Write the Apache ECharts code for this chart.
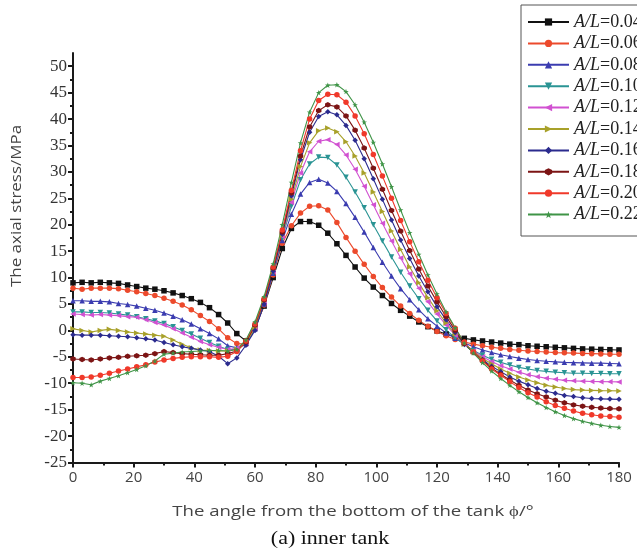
<!DOCTYPE html>
<html>
<head>
<meta charset="utf-8">
<script src="https://cdn.jsdelivr.net/npm/echarts@6/dist/echarts.min.js"></script>
<style>
  html, body { margin: 0; padding: 0; background: #fff; }
  #chart { width: 637px; height: 553px; }
</style>
</head>
<body>
<div id="chart"></div>
<script>
// Angle from the bottom of the tank (degrees), sampled every 3 degrees
const angles = [
  0, 3, 6, 9, 12, 15, 18, 21, 24, 27,
  30, 33, 36, 39, 42, 45, 48, 51, 54, 57,
  60, 63, 66, 69, 72, 75, 78, 81, 84, 87,
  90, 93, 96, 99, 102, 105, 108, 111, 114, 117,
  120, 123, 126, 129, 132, 135, 138, 141, 144, 147,
  150, 153, 156, 159, 162, 165, 168, 171, 174, 177, 180
];

// A/L ratios, one curve each
const ratios = ['0.04', '0.06', '0.08', '0.10', '0.12', '0.14', '0.16', '0.18', '0.20', '0.22'];

// Axial stress (MPa) for each ratio
const stress004 = [
  9.0, 9.1, 9.0, 9.1, 9.0, 8.9, 8.6, 8.3, 8.0, 7.8,
  7.5, 7.1, 6.6, 6.0, 5.3, 4.3, 3.0, 1.4, -0.6, -2.0,
  0.6, 4.6, 10.0, 15.5, 19.3, 20.6, 20.6, 19.9, 18.4, 16.4,
  14.2, 12.0, 9.9, 8.2, 6.6, 5.1, 3.8, 2.7, 1.6, 0.7,
  -0.1, -0.7, -1.2, -1.5, -1.8, -2.0, -2.2, -2.4, -2.6, -2.7,
  -2.9, -3.0, -3.1, -3.2, -3.3, -3.4, -3.5, -3.55, -3.6, -3.65, -3.7
];
const stress006 = [
  8.0, 7.8, 8.0, 8.0, 8.0, 7.9, 7.6, 7.3, 7.0, 6.6,
  6.1, 5.5, 4.8, 3.9, 2.8, 1.7, 0.3, -1.4, -2.5, -2.6,
  0.3, 4.8, 10.5, 16.5, 19.8, 22.2, 23.5, 23.6, 22.8, 20.4,
  17.6, 15.0, 12.5, 10.2, 8.1, 6.3, 4.6, 3.2, 1.9, 0.8,
  -0.2, -1.0, -1.7, -2.2, -2.6, -2.9, -3.2, -3.4, -3.6, -3.75,
  -3.9, -4.0, -4.1, -4.2, -4.25, -4.3, -4.35, -4.4, -4.45, -4.5, -4.5
];
const stress008 = [
  5.6, 5.6, 5.5, 5.5, 5.4, 5.1, 4.9, 4.6, 4.2, 3.8,
  3.3, 2.7, 2.0, 1.2, 0.3, -0.6, -1.6, -2.9, -3.3, -2.5,
  0.3, 5.0, 10.8, 17.0, 22.0, 25.8, 28.0, 28.6, 27.9, 26.3,
  24.0, 21.4, 18.6, 15.7, 12.9, 10.3, 7.9, 5.8, 3.9, 2.2,
  0.8, -0.5, -1.5, -2.4, -3.1, -3.7, -4.2, -4.6, -4.95, -5.25,
  -5.5, -5.7, -5.85, -5.95, -6.05, -6.1, -6.15, -6.2, -6.2, -6.25, -6.3
];
const stress010 = [
  3.5, 3.5, 3.4, 3.4, 3.3, 3.1, 2.9, 2.6, 2.2, 1.8,
  1.3, 0.7, 0.0, -0.7, -1.5, -2.3, -3.0, -3.6, -3.6, -2.5,
  0.3, 5.2, 11.0, 17.5, 23.5, 28.5, 31.5, 32.8, 32.7, 31.3,
  29.0, 26.2, 23.2, 20.0, 16.9, 13.9, 11.0, 8.4, 6.0, 3.8,
  1.8, 0.1, -1.4, -2.7, -3.8, -4.7, -5.45, -6.05, -6.55, -7.0,
  -7.3, -7.6, -7.75, -7.9, -8.0, -8.1, -8.12, -8.15, -8.17, -8.19, -8.2
];
const stress012 = [
  3.1, 3.0, 2.9, 3.0, 2.9, 2.8, 2.6, 2.5, 2.0, 1.5,
  1.0, 0.3, -0.5, -1.3, -2.1, -2.7, -3.2, -3.6, -3.4, -2.3,
  0.5, 5.3, 11.2, 17.8, 24.2, 29.8, 33.8, 35.8, 36.1, 35.2,
  33.2, 30.5, 27.3, 23.8, 20.3, 16.9, 13.7, 10.7, 8.0, 5.4,
  3.1, 1.0, -0.9, -2.6, -3.9, -5.0, -5.9, -6.7, -7.3, -7.9,
  -8.4, -8.75, -9.05, -9.25, -9.45, -9.55, -9.6, -9.68, -9.7, -9.73, -9.75
];
const stress014 = [
  0.3, 0.0, -0.3, 0.0, 0.2, 0.0, -0.3, -0.5, -0.7, -0.9,
  -1.1, -1.8, -2.6, -3.3, -3.7, -3.8, -3.9, -3.9, -3.6, -2.4,
  0.5, 5.4, 11.3, 18.0, 24.8, 31.0, 35.5, 37.8, 38.3, 37.6,
  35.7, 33.0, 29.8, 26.2, 22.5, 18.8, 15.3, 12.0, 9.0, 6.2,
  3.7, 1.4, -0.7, -2.6, -4.0, -5.3, -6.3, -7.3, -8.1, -8.8,
  -9.4, -9.9, -10.4, -10.7, -11.0, -11.2, -11.3, -11.35, -11.4, -11.43, -11.45
];
const stress016 = [
  -0.8, -0.9, -0.9, -0.9, -1.0, -1.1, -1.2, -1.4, -1.6, -1.8,
  -2.3, -2.7, -3.1, -3.4, -3.7, -4.0, -4.9, -6.3, -5.2, -2.8,
  0.0, 5.0, 11.2, 18.2, 25.5, 32.3, 37.5, 40.5, 41.4, 40.8,
  38.8, 36.0, 32.5, 28.7, 24.8, 20.9, 17.1, 13.6, 10.3, 7.3,
  4.5, 2.0, -0.4, -2.6, -4.2, -5.5, -6.8, -7.8, -8.8, -9.6,
  -10.3, -11.0, -11.5, -11.9, -12.3, -12.5, -12.75, -12.9, -12.95, -13.0, -13.05
];
const stress018 = [
  -5.4, -5.5, -5.6, -5.4, -5.2, -5.1, -4.9, -4.8, -4.7, -4.4,
  -4.0, -4.2, -4.4, -4.5, -4.6, -4.7, -4.7, -4.4, -3.9, -2.2,
  1.0, 5.8, 11.8, 18.6, 26.0, 33.0, 38.5, 41.6, 42.7, 42.3,
  40.6, 37.9, 34.5, 30.7, 26.7, 22.7, 18.8, 15.1, 11.6, 8.4,
  5.4, 2.6, 0.0, -2.5, -4.2, -5.7, -7.1, -8.3, -9.4, -10.4,
  -11.3, -12.0, -12.6, -13.2, -13.7, -14.1, -14.35, -14.55, -14.7, -14.8, -14.85
];
const stress020 = [
  -8.9, -8.9, -8.8, -8.5, -8.1, -7.7, -7.3, -6.9, -6.5, -6.0,
  -5.6, -5.3, -5.1, -5.0, -5.0, -5.0, -5.1, -4.9, -4.0, -2.0,
  1.2, 6.0, 12.0, 19.0, 26.5, 34.0, 40.0, 43.5, 44.7, 44.6,
  43.2, 40.6, 37.2, 33.3, 29.2, 25.0, 20.8, 16.8, 13.0, 9.5,
  6.2, 3.2, 0.4, -2.3, -4.1, -5.8, -7.3, -8.5, -9.7, -10.8,
  -11.8, -12.6, -13.5, -14.2, -14.75, -15.25, -15.7, -15.95, -16.2, -16.3, -16.45
];
const stress022 = [
  -9.9, -10.0, -10.3, -9.6, -9.1, -8.6, -8.0, -7.4, -6.7, -5.8,
  -4.5, -4.3, -4.1, -4.0, -3.9, -3.8, -3.8, -3.9, -3.6, -1.8,
  1.6, 6.4, 12.6, 20.0, 28.0, 35.5, 41.3, 45.0, 46.4, 46.5,
  45.2, 42.7, 39.4, 35.6, 31.5, 27.2, 22.8, 18.5, 14.4, 10.5,
  6.9, 3.5, 0.5, -2.4, -4.3, -6.1, -7.7, -9.1, -10.4, -11.6,
  -12.7, -13.7, -14.6, -15.4, -16.1, -16.7, -17.2, -17.6, -17.95, -18.2, -18.35
];

const stressSets = [stress004, stress006, stress008, stress010, stress012,
                    stress014, stress016, stress018, stress020, stress022];

// Tick labels
const xTicks = [0, 20, 40, 60, 80, 100, 120, 140, 160, 180];
const yTicks = [-25, -20, -15, -10, -5, 0, 5, 10, 15, 20, 25, 30, 35, 40, 45, 50];

// Line colours and marker shapes, one per ratio
const colors = ['#111111', '#ec4a2c', '#3b3cb0', '#2a9494', '#d151d1',
                '#a8a12a', '#2b2b8e', '#7c1414', '#f0392a', '#3f9447'];
const hexagon = 'path://M0,-1L0.87,-0.5L0.87,0.5L0,1L-0.87,0.5L-0.87,-0.5Z';
const star = 'path://M0,-1L0.24,-0.31L0.95,-0.31L0.38,0.12L0.59,0.81L0,0.38L-0.59,0.81L-0.38,0.12L-0.95,-0.31L-0.24,-0.31Z';
const symbols = ['rect', 'circle', 'triangle', 'triangle', 'triangle',
                 'triangle', 'diamond', hexagon, 'circle', star];
const rotations = [0, 0, 0, 180, 90, -90, 0, 0, 0, 0];

const chart = echarts.init(document.getElementById('chart'), null, { renderer: 'canvas' });

const series = ratios.map((r, k) => ({
  name: 'A/L=' + r,
  type: 'line',
  data: angles.map((a, i) => [a, stressSets[k][i]]),
  symbol: symbols[k],
  symbolRotate: rotations[k],
  symbolSize: 5.5,
  showSymbol: true,
  lineStyle: { color: colors[k], width: 1.1 },
  itemStyle: { color: colors[k], borderWidth: 0 },
  emphasis: { disabled: true },
  animation: false
}));

chart.setOption({
  backgroundColor: '#ffffff',
  animation: false,
  grid: { left: 73, right: 18, top: 53, bottom: 90.5, containLabel: false },
  legend: {
    orient: 'vertical',
    left: 521,
    top: 5,
    padding: [8, 10, 3, 6],
    itemGap: 3.4,
    itemWidth: 41,
    itemHeight: 9,
    borderWidth: 0,
    data: series.map(s => s.name),
    formatter: name => '{i|A/L}{n|' + name.slice(3) + '}',
    textStyle: {
      color: '#222',
      fontFamily: 'Liberation Serif',
      fontSize: 18,
      lineHeight: 18,
      rich: {
        i: { fontFamily: 'Liberation Serif', fontStyle: 'italic', fontSize: 18, lineHeight: 18, color: '#222' },
        n: { fontFamily: 'Liberation Serif', fontSize: 18, lineHeight: 18, color: '#222' }
      }
    }
  },
  xAxis: {
    type: 'value',
    min: 0,
    max: 180,
    interval: 20,
    axisLine: { show: true, onZero: false, lineStyle: { color: '#1a1a1a', width: 2 } },
    axisTick: { show: true, inside: false, length: 5, lineStyle: { color: '#1a1a1a', width: 2 } },
    minorTick: { show: true, splitNumber: 2, length: 3, lineStyle: { color: '#1a1a1a', width: 2 } },
    splitLine: { show: false },
    axisLabel: {
      customValues: xTicks,
      margin: 8,
      color: '#444',
      fontFamily: 'Open Sans',
      fontSize: 15
    }
  },
  yAxis: {
    type: 'value',
    min: -25,
    max: 52.5,
    interval: 5,
    axisLine: { show: true, onZero: false, lineStyle: { color: '#1a1a1a', width: 2 } },
    axisTick: { show: true, inside: false, length: 5, customValues: yTicks, lineStyle: { color: '#1a1a1a', width: 2 } },
    minorTick: { show: true, splitNumber: 2, length: 3, lineStyle: { color: '#1a1a1a', width: 2 } },
    splitLine: { show: false },
    axisLabel: {
      customValues: yTicks,
      margin: 6,
      color: '#333',
      fontFamily: 'Liberation Serif',
      fontSize: 17
    }
  },
  graphic: [
    {
      // legend frame, running past the right edge of the canvas
      type: 'rect',
      z: 1,
      shape: { x: 521, y: 5, width: 140, height: 231 },
      style: { fill: '#ffffff', stroke: '#555', lineWidth: 1 }
    },
    {
      type: 'text',
      x: 17, y: 206,
      rotation: Math.PI / 2,
      scaleX: 1.13,
      style: {
        text: 'The axial stress/MPa',
        fill: '#444',
        font: '15px "Open Sans"',
        align: 'center',
        verticalAlign: 'middle'
      }
    },
    {
      type: 'text',
      x: 353, y: 512,
      scaleX: 1.24,
      style: {
        text: 'The angle from the bottom of the tank ϕ/°',
        fill: '#444',
        font: '15px "Open Sans"',
        align: 'center',
        verticalAlign: 'middle'
      }
    },
    {
      type: 'text',
      x: 330, y: 539,
      scaleX: 1.22,
      style: {
        text: '(a) inner tank',
        fill: '#111',
        font: '18px "Liberation Serif"',
        align: 'center',
        verticalAlign: 'middle'
      }
    }
  ],
  series: series
});
</script>
</body>
</html>
